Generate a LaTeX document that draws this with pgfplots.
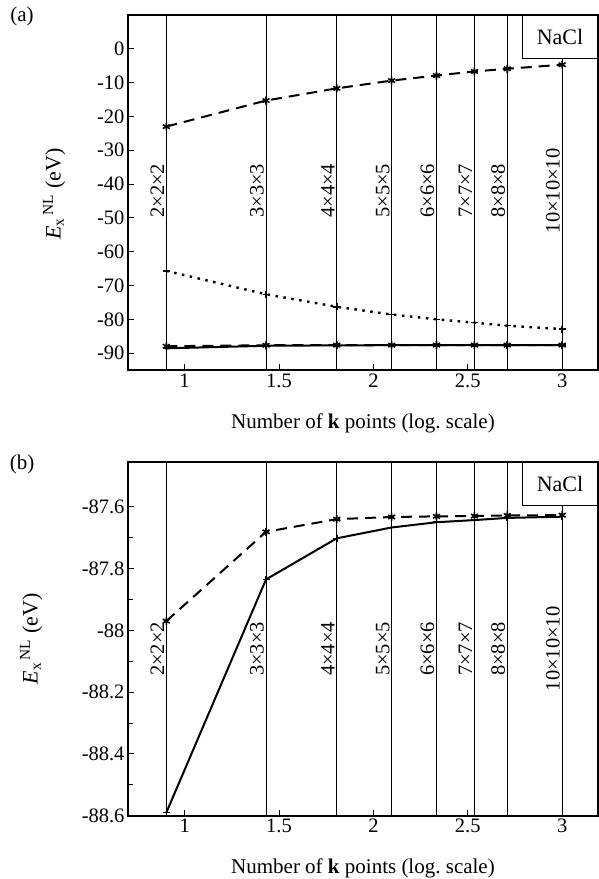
\documentclass[border=0pt]{standalone}
\usepackage{fontspec}
\setmainfont{Liberation Serif}
\usepackage{pgfplots}
\pgfplotsset{compat=1.18}

% k-point meshes: log10 of 8, 27, 64, 125, 216, 343, 512, 1000
\pgfplotsset{
  kpanel/.style={
    scale only axis, width=470pt,
    xmin=0.70, xmax=3.19,
    xtick={1,1.5,2,2.5,3},
    xticklabels={1,1.5,2,2.5,3},
    tick align=inside, tick pos=left,
    major tick length=6pt, minor tick length=5pt,
    axis line style={line width=1.8pt},
    tick style={line width=1pt, black},
    every tick label/.append style={font=\fontsize{20.5}{24}\selectfont},
    xlabel style={font=\fontsize{21}{24}\selectfont, yshift=-19pt},
    ylabel style={font=\fontsize{22}{26}\selectfont, anchor=center},
    /pgf/number format/assume math mode=true,
    extra x ticks={0.90309,1.43136,1.80618,2.09691,2.33445,2.53529,2.70927,3},
    extra x tick labels={},
    extra x tick style={grid=major, major tick length=0pt},
    major grid style={line width=0.9pt, black},
    xlabel={Number of \textbf{k} points (log.\ scale)},
    ylabel={\textit{E}\textsubscript{x}\textsuperscript{\,NL} (eV)},
    clip=false,
  },
  dashser/.style={black, line width=2pt, dash pattern=on 11pt off 7pt,
    mark=asterisk, mark size=4pt, mark options={solid, line width=1.6pt}},
  dotser/.style={black, line width=2.4pt, dash pattern=on 2.5pt off 5.5pt,
    mark=+, mark size=3.5pt, mark options={solid, line width=1.5pt}},
  solser/.style={black, line width=2pt, mark=+, mark size=3.5pt,
    mark options={solid, line width=1.6pt}},
}
\tikzset{
  meshlab/.style={rotate=90, anchor=south, inner sep=2pt, font=\fontsize{20.5}{24}\selectfont},
  boxlab/.style={draw, line width=0.9pt, fill=white, anchor=north east,
    minimum width=75pt, minimum height=43pt, inner sep=0pt, font=\fontsize{22}{26}\selectfont},
}

\begin{document}
\begin{tikzpicture}
\useasboundingbox (-128pt,370pt) rectangle (471pt,-509pt);

% ---- panel (a)
\begin{axis}[kpanel, at={(0pt,0pt)}, anchor=south west, height=355pt,
    ymin=-95, ymax=10, ytick={-90,-80,...,0},
    ylabel style={at={(rel axis cs:-0.157,0.496)}}]
  \addplot[dashser] coordinates {
    (0.90309,-23.0) (1.43136,-15.3) (1.80618,-11.7) (2.09691,-9.4)
    (2.33445,-7.9) (2.53529,-6.7) (2.70927,-5.9) (3,-4.7)};
  \addplot[dotser] coordinates {
    (0.90309,-65.7) (1.43136,-72.6) (1.80618,-76.3) (2.09691,-78.6)
    (2.33445,-80.0) (2.53529,-81.0) (2.70927,-81.9) (3,-82.9)};
  \addplot[dashser] coordinates {
    (0.90309,-87.97) (1.43136,-87.681) (1.80618,-87.64) (2.09691,-87.633)
    (2.33445,-87.631) (2.53529,-87.63) (2.70927,-87.628) (3,-87.627)};
  \addplot[solser] coordinates {
    (0.90309,-88.59) (1.43136,-87.835) (1.80618,-87.702) (2.09691,-87.667)
    (2.33445,-87.65) (2.53529,-87.643) (2.70927,-87.636) (3,-87.632)};

  \node[meshlab] at (axis cs:0.90309,-42) {2×2×2};
  \node[meshlab] at (axis cs:1.43136,-42) {3×3×3};
  \node[meshlab] at (axis cs:1.80618,-42) {4×4×4};
  \node[meshlab] at (axis cs:2.09691,-42) {5×5×5};
  \node[meshlab] at (axis cs:2.33445,-42) {6×6×6};
  \node[meshlab] at (axis cs:2.53529,-42) {7×7×7};
  \node[meshlab] at (axis cs:2.70927,-42) {8×8×8};
  \node[meshlab] at (axis cs:3,-42) {10×10×10};
  \node[boxlab] at (rel axis cs:1,1) {NaCl};
  \node[font=\fontsize{21}{24}\selectfont] at (rel axis cs:-0.2255,0.997) {(a)};
\end{axis}

% ---- panel (b)
\begin{axis}[kpanel, at={(0pt,-445.7pt)}, anchor=south west, height=353.7pt,
    ymin=-88.6, ymax=-87.455, ytick={-88.6,-88.4,-88.2,-88,-87.8,-87.6},
    yticklabels={-88.6,-88.4,-88.2,-88,-87.8,-87.6}, minor y tick num=1,
    ylabel style={at={(rel axis cs:-0.206,0.5)}}]
  \addplot[dashser] coordinates {
    (0.90309,-87.97) (1.43136,-87.681) (1.80618,-87.64) (2.09691,-87.633)
    (2.33445,-87.631) (2.53529,-87.63) (2.70927,-87.628) (3,-87.627)};
  \addplot[solser] coordinates {
    (0.90309,-88.59) (1.43136,-87.835) (1.80618,-87.702) (2.09691,-87.667)
    (2.33445,-87.65) (2.53529,-87.643) (2.70927,-87.636) (3,-87.632)};

  \node[meshlab] at (axis cs:0.90309,-88.06) {2×2×2};
  \node[meshlab] at (axis cs:1.43136,-88.06) {3×3×3};
  \node[meshlab] at (axis cs:1.80618,-88.06) {4×4×4};
  \node[meshlab] at (axis cs:2.09691,-88.06) {5×5×5};
  \node[meshlab] at (axis cs:2.33445,-88.06) {6×6×6};
  \node[meshlab] at (axis cs:2.53529,-88.06) {7×7×7};
  \node[meshlab] at (axis cs:2.70927,-88.06) {8×8×8};
  \node[meshlab] at (axis cs:3,-88.06) {10×10×10};
  \node[boxlab] at (rel axis cs:1,1) {NaCl};
  \node[font=\fontsize{21}{24}\selectfont] at (rel axis cs:-0.2255,0.994) {(b)};
\end{axis}
\end{tikzpicture}
\end{document}
